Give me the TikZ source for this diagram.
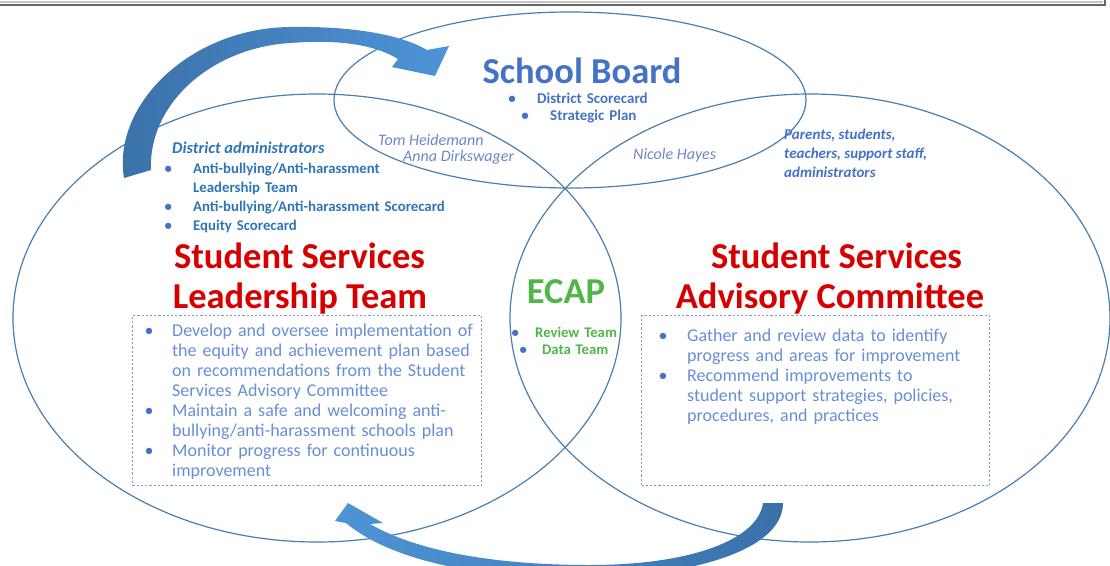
\documentclass[tikz,border=0pt]{standalone}
\usepackage{fontspec}
\setmainfont{Carlito}
\usepackage{tikz}
\definecolor{ringblue}{RGB}{74,126,173}
\definecolor{boardblue}{RGB}{68,114,196}
\definecolor{adminblue}{RGB}{46,117,182}
\definecolor{listblue}{RGB}{104,142,214}
\definecolor{nameblue}{RGB}{110,134,200}
\definecolor{teamred}{RGB}{214,0,0}
\definecolor{ecapgreen}{RGB}{80,182,72}
\definecolor{boxedge}{RGB}{120,158,200}
\definecolor{arrowdark}{RGB}{58,112,168}
\definecolor{arrowlight}{RGB}{78,148,214}
\newlength\bulletgap
\newcommand\bitem[1]{\hangindent=\bulletgap\hangafter=1%
  \makebox[0pt][c]{\textcolor{boardblue}{\textbullet}}\hspace*{\bulletgap}#1\par}
\tikzset{
  ring/.style = {draw=ringblue, line width=1.2pt},% contour des trois cercles
  head/.style = {inner sep=0pt, anchor=base,
    font=\bfseries\fontsize{36.5}{40}\selectfont},% grands titres
  txt/.style = {inner sep=0pt, anchor=base west},
  blist/.style = {inner sep=0pt, anchor=base west, text width=#1pt, align=left},
  gap/.style = {execute at begin node={\setlength\bulletgap{#1pt}}},
  names/.style = {txt, text=nameblue, font=\itshape\fontsize{16}{19}\selectfont},
  dotbox/.style = {draw=boxedge, line width=1.3pt, dash pattern=on 2.2pt off 2pt,
    inner sep=0pt, anchor=north west}
}

\begin{document}
\begin{tikzpicture} [x = 1pt, y = -1pt]
  \useasboundingbox (0,0) rectangle (1110,565);
  \clip (0,0) rectangle (1110,565);
  % bord du cadre du dessus
  \draw[gray!45, line width=1.5pt] (0,2) -- (1103,2);
  \draw[black!60, line width=2.2pt] (0,5) -- (1105,5) -- (1105,0);

  % les trois cercles
  \draw[ring] (570,100) ellipse [x radius=236, y radius=88];
  \draw[ring] (317,318) ellipse [x radius=304, y radius=224];
  \draw[ring] (810,318) ellipse [x radius=300, y radius=224];

  % fleche du haut
  \shade[left color=arrowdark, right color=arrowlight]
    (124,178) .. controls (112,105) and (190,28) .. (290,27)
    .. controls (350,26) and (400,34) .. (427,50)
    -- (449,46) -- (435,76) -- (392,67) -- (398,59)
    .. controls (370,42) and (330,40) .. (290,43)
    .. controls (210,48) and (148,105) .. (151,170) -- cycle;
  % fleche du bas
  \shade[left color=arrowlight, right color=arrowdark]
    (783,503) .. controls (783,548) and (700,575) .. (590,578)
    .. controls (480,580) and (390,560) .. (346,523)
    -- (335,521) -- (348,503) -- (383,523) -- (370,524)
    .. controls (415,550) and (490,565) .. (590,565)
    .. controls (690,565) and (758,540) .. (763,503) -- cycle;

  % School Board
  \node[head, text=boardblue] (board) at (582,83) {School Board};
  \node[blist=150, gap=25, text=boardblue,
    font=\bfseries\fontsize{15}{17}\selectfont] (board1) at (512,103.5)
    {\bitem{District Scorecard}};
  \node[blist=150, gap=25, text=boardblue,
    font=\bfseries\fontsize{15}{17}\selectfont] (board2) at (525,120.5)
    {\bitem{Strategic Plan}};
  \node[names] (tom) at (378,145) {Tom Heidemann};
  \node[names] (anna) at (403,161) {Anna Dirkswager};
  \node[names] (nicole) at (633,159) {Nicole Hayes};

  % Leadership Team
  \node[txt, text=adminblue, font=\bfseries\itshape\fontsize{16.4}{19}\selectfont]
    (admin) at (172,153) {District administrators};
  \node[blist=300, gap=25, text=adminblue,
    font=\bfseries\fontsize{14.8}{19}\selectfont] (adminlist) at (168,173)
    {\bitem{Anti-bullying/Anti-harassment\newline Leadership Team}
     \bitem{Anti-bullying/Anti-harassment Scorecard}
     \bitem{Equity Scorecard}};
  \node[head, text=teamred] (lead1) at (299.5,268) {Student Services};
  \node[head, text=teamred] (lead2) at (300,308) {Leadership Team};
  \node[dotbox, minimum width=349, minimum height=170] (leadbox) at (132,315) {};
  \node[blist=400, gap=23, text=listblue, font=\fontsize{18}{20}\selectfont]
    (leadlist) at (149,336)
    {\bitem{Develop and oversee implementation of\newline the equity and achievement plan based\newline on recommendations from the Student\newline Services Advisory Committee}
     \bitem{Maintain a safe and welcoming anti-\newline bullying/anti-harassment schools plan}
     \bitem{Monitor progress for continuous\newline improvement}};

  % Advisory Committee
  \node[txt, text=boardblue, align=left,
    font=\bfseries\itshape\fontsize{15}{19}\selectfont] (parents) at (784,177)
    {Parents, students,\\ teachers, support staff,\\ administrators};
  \node[head, text=teamred] (adv1) at (836.5,268) {Student Services};
  \node[head, text=teamred] (adv2) at (830,308) {Advisory Committee};
  \node[dotbox, minimum width=348, minimum height=170] (advbox) at (641,315) {};
  \node[blist=400, gap=24, text=listblue, font=\fontsize{18}{20}\selectfont]
    (advlist) at (663,341.5)
    {\bitem{Gather and review data to identify\newline progress and areas for improvement}
     \bitem{Recommend improvements to\newline student support strategies, policies,\newline procedures, and practices}};

  % ECAP
  \node[head, text=ecapgreen] (ecap) at (566,303.5) {ECAP};
  \node[blist=120, gap=20, text=ecapgreen,
    font=\bfseries\fontsize{14.7}{17}\selectfont] (ecap1) at (515,337)
    {\bitem{Review Team}};
  \node[blist=120, gap=19, text=ecapgreen,
    font=\bfseries\fontsize{14.7}{17}\selectfont] (ecap2) at (523,354)
    {\bitem{Data Team}};
\end{tikzpicture}
\end{document}
